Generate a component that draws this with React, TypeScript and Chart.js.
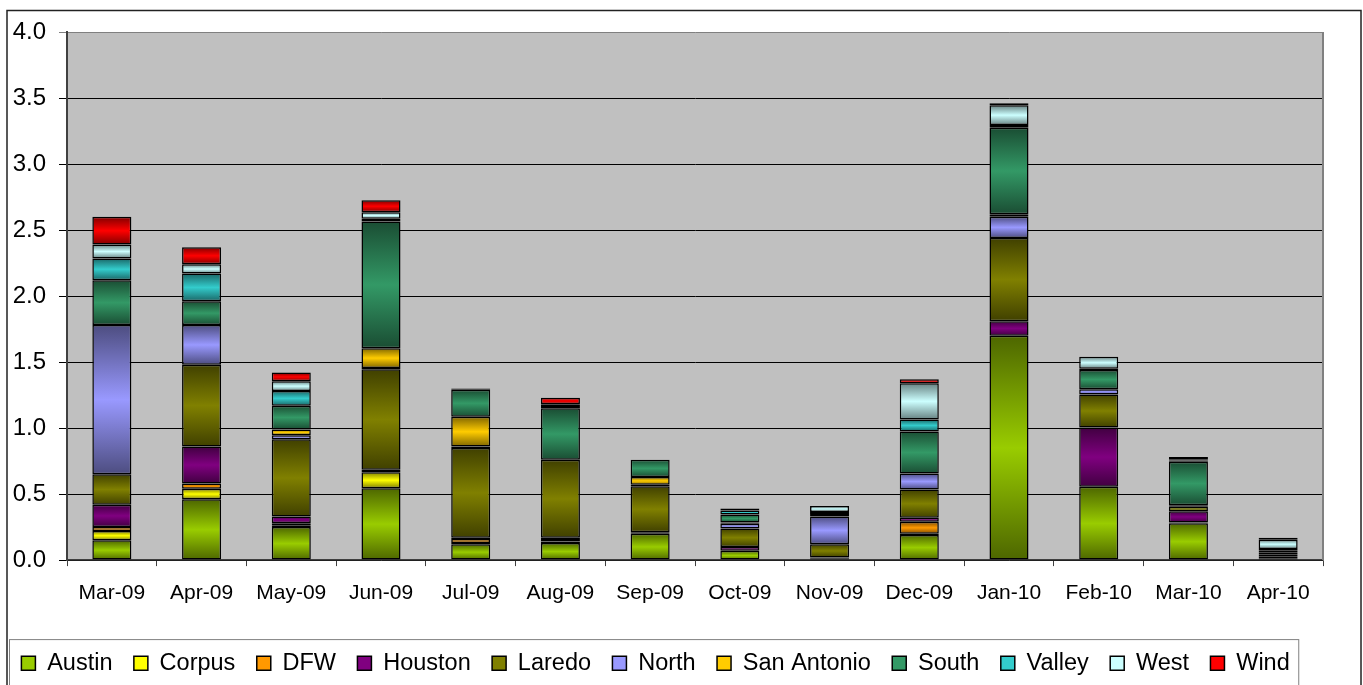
import React, { useEffect, useRef } from "react";
import { Chart, registerables } from "chart.js";

Chart.register(...registerables);

const categories = ["Mar-09", "Apr-09", "May-09", "Jun-09", "Jul-09", "Aug-09", "Sep-09", "Oct-09", "Nov-09", "Dec-09", "Jan-10", "Feb-10", "Mar-10", "Apr-10"];

const austin = [0.15, 0.46, 0.25, 0.545, 0.12, 0.13, 0.2, 0.07, 0.01, 0.19, 1.7, 0.555, 0.28, 0.01];
const corpus = [0.07, 0.08, 0.01, 0.12, 0.01, 0.01, 0.0, 0.0, 0.0, 0.01, 0.0, 0.0, 0.0, 0.0];
const dfw = [0.03, 0.04, 0.02, 0.01, 0.03, 0.02, 0.01, 0.0, 0.0, 0.09, 0.0, 0.0, 0.005, 0.005];
const houston = [0.17, 0.28, 0.05, 0.01, 0.01, 0.01, 0.0, 0.03, 0.01, 0.03, 0.11, 0.45, 0.085, 0.01];
const laredo = [0.23, 0.62, 0.585, 0.76, 0.68, 0.59, 0.35, 0.14, 0.1, 0.215, 0.63, 0.25, 0.035, 0.02];
const north = [1.13, 0.3, 0.03, 0.01, 0.01, 0.0, 0.01, 0.035, 0.21, 0.12, 0.16, 0.04, 0.01, 0.01];
const sanAntonio = [0.0, 0.0, 0.045, 0.15, 0.225, 0.0, 0.06, 0.01, 0.0, 0.0, 0.02, 0.0, 0.0, 0.0];
const south = [0.34, 0.18, 0.18, 0.96, 0.205, 0.39, 0.13, 0.06, 0.02, 0.32, 0.655, 0.145, 0.33, 0.02];
const valley = [0.165, 0.21, 0.11, 0.02, 0.0, 0.01, 0.0, 0.03, 0.015, 0.09, 0.02, 0.01, 0.01, 0.01];
const west = [0.105, 0.07, 0.075, 0.05, 0.0, 0.02, 0.0, 0.0, 0.045, 0.275, 0.15, 0.09, 0.005, 0.07];
const wind = [0.21, 0.13, 0.065, 0.09, 0.01, 0.05, 0.0, 0.015, 0.0, 0.03, 0.015, 0.0, 0.02, 0.015];

const seriesNames = ["Austin", "Corpus", "DFW", "Houston", "Laredo", "North", "San Antonio", "South", "Valley", "West", "Wind"];
const seriesValues = [austin, corpus, dfw, houston, laredo, north, sanAntonio, south, valley, west, wind];
const seriesColors = ["#99CC00", "#FFFF00", "#FF9900", "#800080", "#808000", "#9999FF", "#FFCC00", "#339966", "#33CCCC", "#CCFFFF", "#FF0000"];

const yTicks = [0, 0.5, 1, 1.5, 2, 2.5, 3, 3.5, 4];

const FONT = "'Liberation Sans', Arial, sans-serif";

function darken(hex: string, f: number) {
  const n = parseInt(hex.slice(1), 16);
  const r = Math.round(((n >> 16) & 255) * f);
  const g = Math.round(((n >> 8) & 255) * f);
  const b = Math.round((n & 255) * f);
  return `rgb(${r},${g},${b})`;
}

const framePlugin = {
  id: "framePlugin",
  beforeDraw(chart: any) {
    const { ctx, chartArea } = chart;
    ctx.save();
    ctx.fillStyle = "#ffffff";
    ctx.fillRect(0, 0, chart.width, chart.height);
    ctx.fillStyle = "#C0C0C0";
    ctx.fillRect(chartArea.left, chartArea.top, chartArea.right - chartArea.left, chartArea.bottom - chartArea.top);
    ctx.restore();
  },
  afterDraw(chart: any) {
    const { ctx, chartArea } = chart;
    ctx.save();
    ctx.strokeStyle = "#808080";
    ctx.lineWidth = 2;
    ctx.beginPath();
    ctx.moveTo(chartArea.right, chartArea.top);
    ctx.lineTo(chartArea.right, chartArea.bottom);
    ctx.stroke();
    ctx.strokeStyle = "#222222";
    ctx.lineWidth = 1.5;
    ctx.strokeRect(7, 10.5, chart.width - 9, chart.height + 20);
    const lg = chart.legend;
    if (lg && lg.legendHitBoxes && lg.legendHitBoxes.length) {
      const boxes = lg.legendHitBoxes;
      const last = boxes[boxes.length - 1];
      const right = last.left + last.width + 9;
      ctx.strokeStyle = "#808080";
      ctx.lineWidth = 1;
      ctx.strokeRect(9.5, lg.top + 9.5, right - 9.5, chart.height);
    }
    ctx.restore();
  },
};

export default function App() {
  const canvasRef = useRef<HTMLCanvasElement | null>(null);

  useEffect(() => {
    if (!canvasRef.current) return;
    const datasets = seriesNames.map((name, di) => ({
      label: name,
      data: seriesValues[di],
      borderColor: "#000000",
      borderWidth: 1.5,
      borderSkipped: false,
      backgroundColor: (c: any) => {
        const color = seriesColors[di];
        if (c.type !== "data" || c.dataIndex === undefined) return color;
        const yScale = c.chart.scales && c.chart.scales.y;
        if (!yScale) return color;
        const i = c.dataIndex;
        let below = 0;
        for (let k = 0; k < di; k++) below += seriesValues[k][i];
        const top = below + seriesValues[di][i];
        const y0 = yScale.getPixelForValue(top);
        const y1 = yScale.getPixelForValue(below);
        if (!isFinite(y0) || !isFinite(y1) || y1 - y0 < 1) return color;
        const g = c.chart.ctx.createLinearGradient(0, y0, 0, y1);
        g.addColorStop(0, darken(color, 0.5));
        g.addColorStop(0.5, color);
        g.addColorStop(1, darken(color, 0.5));
        return g;
      },
      barPercentage: 0.435,
      categoryPercentage: 1,
    }));

    const chart = new Chart(canvasRef.current, {
      type: "bar",
      data: { labels: categories, datasets },
      plugins: [framePlugin],
      options: {
        animation: false,
        responsive: true,
        maintainAspectRatio: false,
        devicePixelRatio: 1,
        layout: { padding: { top: 32, right: 40, bottom: 0, left: 0 } },
        plugins: {
          tooltip: { enabled: false },
          legend: {
            position: "bottom",
            align: "start",
            labels: {
              color: "#000",
              font: { family: FONT, size: 23.5 },
              boxWidth: 14,
              boxHeight: 14,
              padding: 21.4,
              generateLabels: (ch: any) =>
                seriesNames.map((name, i) => ({
                  text: name,
                  fillStyle: seriesColors[i],
                  strokeStyle: "#000000",
                  lineWidth: 1.5,
                  hidden: false,
                  datasetIndex: i,
                  fontColor: "#000",
                })),
            },
          },
        },
        scales: {
          x: {
            stacked: true,
            offset: true,
            afterFit: (s: any) => {
              s.height = 70;
            },
            grid: {
              offset: true,
              drawOnChartArea: false,
              drawTicks: true,
              tickLength: 6,
              color: "#404040",
              lineWidth: 1,
            },
            border: { color: "#404040", width: 1.5 },
            ticks: {
              color: "#000",
              font: { family: FONT, size: 21 },
              padding: 15,
              maxRotation: 0,
              autoSkip: false,
            },
          },
          y: {
            stacked: true,
            min: 0,
            max: 4,
            afterFit: (s: any) => {
              s.width = 67;
            },
            afterBuildTicks: (s: any) => {
              s.ticks = yTicks.map((v) => ({ value: v }));
            },
            grid: {
              color: (c: any) => (c.tick && c.tick.value === 4 ? "#808080" : "#000000"),
              lineWidth: 1,
              tickLength: 8,
              drawTicks: true,
            },
            border: { color: "#404040", width: 2 },
            ticks: {
              color: "#000",
              font: { family: FONT, size: 24 },
              padding: 13,
              callback: (v: any) => Number(v).toFixed(1),
            },
          },
        },
      },
    });
    return () => chart.destroy();
  }, []);

  return (
    <div style={{ position: "absolute", left: 0, top: 0, width: 1363, height: 685, background: "#fff" }}>
      <canvas ref={canvasRef} />
    </div>
  );
}
